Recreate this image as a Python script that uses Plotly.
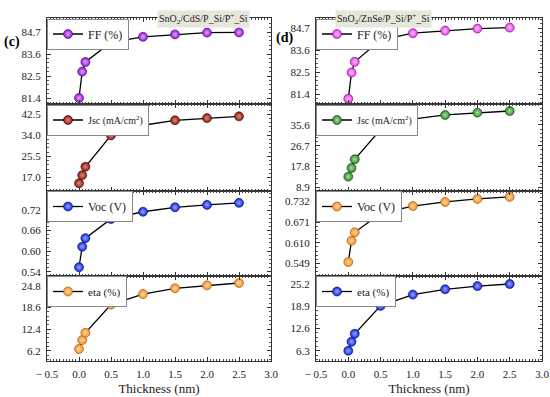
import plotly.graph_objects as go

thickness = [0, 0.05, 0.1, 0.5, 1.0, 1.5, 2.0, 2.5]

# SnO2/CdS/P_Si/P+_Si  (panel c)
ff_c = [81.4, 82.72, 83.2, 84.18, 84.46, 84.58, 84.67, 84.68]
jsc_c = [14.6, 17.9, 21.3, 34.0, 38.1, 40.1, 41.0, 41.7]
voc_c = [0.553, 0.613, 0.638, 0.694, 0.715, 0.728, 0.735, 0.741]
eta_c = [6.77, 9.3, 11.4, 19.4, 22.4, 24.06, 24.9, 25.57]

# SnO2/ZnSe/P_Si/P+_Si  (panel d)
ff_d = [81.16, 82.47, 83.01, 84.1, 84.44, 84.57, 84.67, 84.72]
jsc_d = [13.44, 17.17, 20.9, 33.6, 38.1, 39.9, 40.9, 41.6]
voc_d = [0.553, 0.616, 0.641, 0.697, 0.719, 0.731, 0.740, 0.746]
eta_d = [6.3, 8.85, 11.1, 19.0, 22.2, 23.7, 24.6, 25.2]

labels = ["FF (%)", "Jsc (mA/cm<sup>2</sup>)", "Voc (V)", "eta (%)"]

ticks_c = [[81.4, 82.5, 83.6, 84.7], [17.0, 25.5, 34.0, 42.5], [0.54, 0.60, 0.66, 0.72], [6.2, 12.4, 18.6, 24.8]]
ticktext_c = [["81.4", "82.5", "83.6", "84.7"], ["17.0", "25.5", "34.0", "42.5"], ["0.54", "0.60", "0.66", "0.72"], ["6.2", "12.4", "18.6", "24.8"]]
ticks_d = [[81.4, 82.5, 83.6, 84.7], [8.9, 17.8, 26.7, 35.6], [0.549, 0.610, 0.671, 0.732], [6.3, 12.6, 18.9, 25.2]]
ticktext_d = [["81.4", "82.5", "83.6", "84.7"], ["8.9", "17.8", "26.7", "35.6"], ["0.549", "0.610", "0.671", "0.732"], ["6.3", "12.6", "18.9", "25.2"]]

ranges_c = [[81.1, 85.4], [11.7, 46.7], [0.529, 0.777], [3.35, 27.7]]
ranges_d = [[80.9, 85.2], [7.5, 44.6], [0.513, 0.765], [3.4, 27.6]]

colors_c = [("#9416d6", "#e0a8ff", "#4a0070"), ("#8b1a14", "#e08a80", "#3a0500"),
            ("#1426e0", "#9aa8ff", "#000a60"), ("#f0922c", "#ffd8a0", "#9a5000")]
colors_d = [("#e83ee8", "#ffc0ff", "#800080"), ("#2f8a2a", "#a8e0a0", "#0a400a"),
            ("#f0922c", "#ffd8a0", "#9a5000"), ("#1426e0", "#9aa8ff", "#000a60")]

legend_font = [12, 10, 12, 11]
legend_entry = [[32, 62, 38, 34], [32, 62, 38, 32]]

W, H = 550, 397
xdom = [[47 / W, 271 / W], [316 / W, 542 / W]]
ypx = [18, 104, 190.5, 275.5, 361]
ydom = [[1 - ypx[i + 1] / H, 1 - ypx[i] / H] for i in range(4)]

FONT = "Liberation Serif, Times New Roman, serif"

fig = go.Figure()
layout = {}
n = 0
for col, (series, ticks, ttext, ranges, colors) in enumerate([
        ([ff_c, jsc_c, voc_c, eta_c], ticks_c, ticktext_c, ranges_c, colors_c),
        ([ff_d, jsc_d, voc_d, eta_d], ticks_d, ticktext_d, ranges_d, colors_d)]):
    for row in range(4):
        n += 1
        xa = "x" if n == 1 else f"x{n}"
        ya = "y" if n == 1 else f"y{n}"
        lg = "legend" if n == 1 else f"legend{n}"
        main, light, dark = colors[row]
        fig.add_trace(go.Scatter(
            x=thickness, y=series[row], mode="lines+markers", name=labels[row],
            xaxis=xa, yaxis=ya, legend=lg, showlegend=True,
            line=dict(color="black", width=1.3),
            marker=dict(size=9, color=main, line=dict(color=dark, width=0.6),
                        gradient=dict(type="radial", color=light)),
        ))
        xkey = "xaxis" if n == 1 else f"xaxis{n}"
        ykey = "yaxis" if n == 1 else f"yaxis{n}"
        layout[xkey] = dict(
            domain=xdom[col], anchor=ya, range=[-0.5, 3.0], automargin=False,
            tickmode="array", tickvals=[-0.5, 0, 0.5, 1.0, 1.5, 2.0, 2.5, 3.0],
            ticktext=["\u2212 0.5", "0.0", "0.5", "1.0", "1.5", "2.0", "2.5", "3.0"],
            showticklabels=(row == 3), ticks="inside", ticklen=4, tickcolor="#333",
            minor=dict(ticks="inside", ticklen=2, dtick=0.05, tick0=0, tickcolor="#444"),
            showline=True, linecolor="#333", linewidth=1, mirror="allticks",
            showgrid=False, zeroline=False, ticklabelstandoff=3,
            tickfont=dict(family=FONT, size=11, color="#222"),
            title=dict(text="Thickness (nm)" if row == 3 else "",
                       font=dict(family=FONT, size=13, color="#222"), standoff=4),
        )
        step = ticks[row][1] - ticks[row][0]
        layout[ykey] = dict(
            domain=ydom[row], anchor=xa, range=ranges[row], automargin=False,
            tickmode="array", tickvals=ticks[row], ticktext=ttext[row],
            ticks="inside", ticklen=4, tickcolor="#333",
            minor=dict(ticks="inside", ticklen=2, dtick=step / 5, tick0=ticks[row][0], tickcolor="#555"),
            showline=True, linecolor="#333", linewidth=1, mirror="allticks",
            showgrid=False, zeroline=False,
            tickfont=dict(family=FONT, size=11, color="#222"),
            ticklabelstandoff=3,
        )
        x0 = xdom[col][0]
        layout[lg] = dict(
            x=x0, y=1 - (ypx[row] + 0.5) / H, xanchor="left", yanchor="top",
            bgcolor="white", bordercolor="#888", borderwidth=1,
            font=dict(family=FONT, size=legend_font[row], color="#222"),
            itemwidth=30, tracegroupgap=0, itemclick=False,
            entrywidth=legend_entry[col][row], entrywidthmode="pixels",
        )

fig.update_layout(**layout)

fig.update_layout(
    width=W, height=H, autosize=False,
    margin=dict(l=0, r=0, t=0, b=0, autoexpand=False),
    paper_bgcolor="white", plot_bgcolor="white",
    annotations=[
        dict(text="SnO<sub>2</sub>/CdS/P_Si/P<sup>+</sup>_Si", x=157 / W, y=1 - 10 / H,
             xref="paper", yref="paper", showarrow=False, bgcolor="#e6e6dc",
             font=dict(family=FONT, size=10, color="#222"), borderpad=1),
        dict(text="SnO<sub>2</sub>/ZnSe/P_Si/P<sup>+</sup>_Si", x=432 / W, y=1 - 10 / H,
             xref="paper", yref="paper", showarrow=False, bgcolor="#e6e6dc",
             font=dict(family=FONT, size=10, color="#222"), borderpad=1),
        dict(text="<b>(c)</b>", x=2 / W, y=1 - 32 / H, xref="paper", yref="paper",
             xanchor="left", showarrow=False, font=dict(family=FONT, size=14, color="black")),
        dict(text="<b>(d)</b>", x=274 / W, y=1 - 28 / H, xref="paper", yref="paper",
             xanchor="left", showarrow=False, font=dict(family=FONT, size=14, color="black")),
    ],
)

fig.write_html("out.html", config={"displayModeBar": False},
               post_script="document.body.style.margin='0';document.body.style.overflow='hidden';")
